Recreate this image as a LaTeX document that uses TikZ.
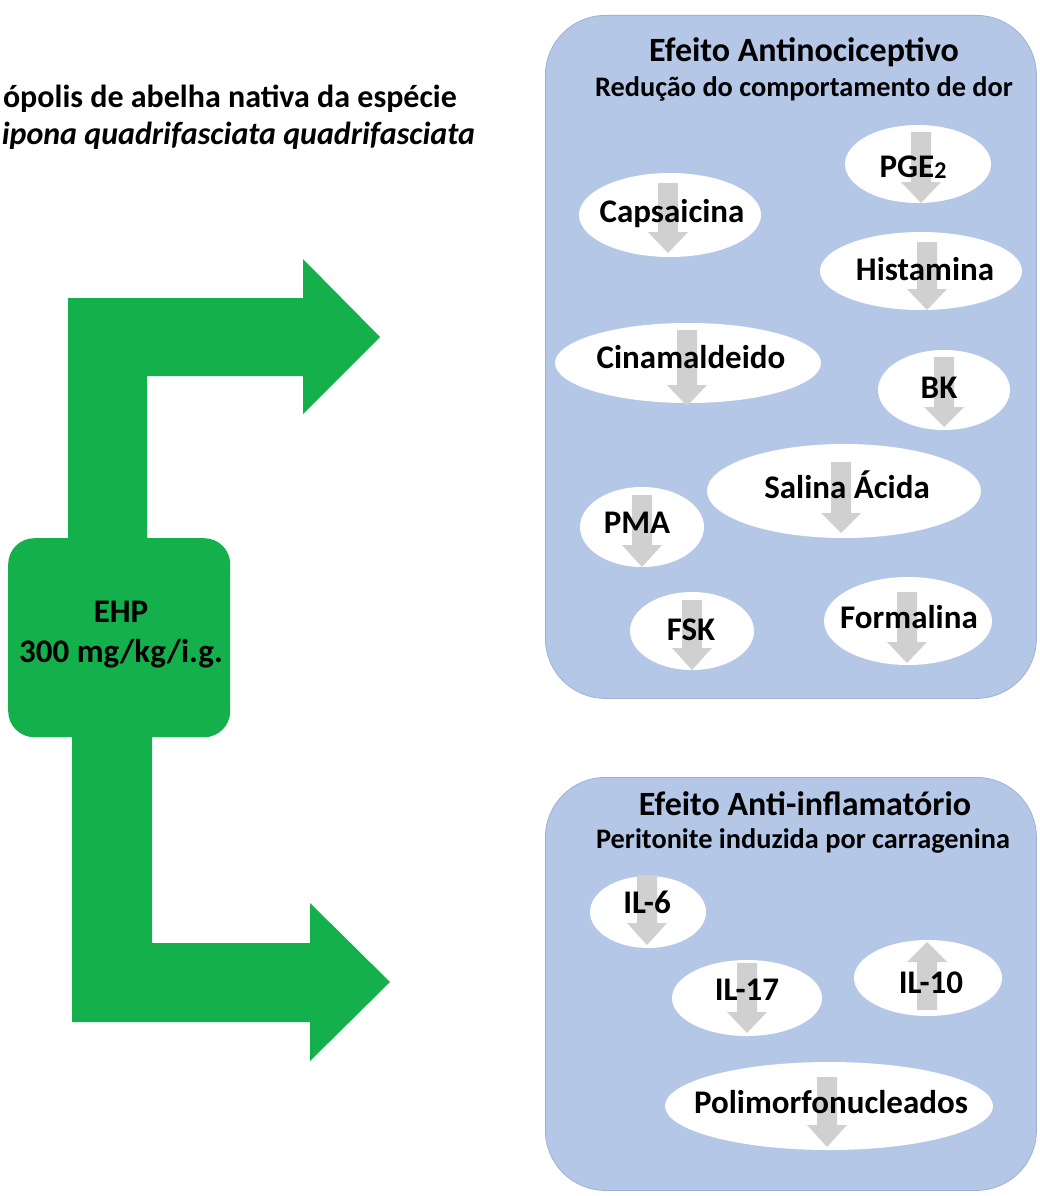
\documentclass[tikz,border=0pt]{standalone}
\usepackage{fontspec}
\setmainfont{Carlito}
\usetikzlibrary{shapes.geometric}
\definecolor{hpgreen}{HTML}{14B04C}
\definecolor{hpblue}{HTML}{B4C7E7}
\definecolor{hpblueline}{HTML}{9DB1D3}
\definecolor{hpgray}{HTML}{D0D0D0}
\tikzset{
  bluebox/.style={fill=hpblue,draw=hpblueline,line width=0.8pt,rounded corners=60pt},
  greenbox/.style={fill=hpgreen,rounded corners=26pt},
  greenarrow/.style={fill=hpgreen},
  oval/.style={ellipse,fill=white,draw=none,inner sep=0pt},
  grayarrow/.style={fill=hpgray},
  lbl/.style={font=\bfseries\fontsize{33}{40}\selectfont,inner sep=0pt,anchor=base},
  hdr/.style={font=\bfseries\fontsize{32}{40}\selectfont,inner sep=0pt,anchor=base east},
  ttl/.style={font=\bfseries\fontsize{34}{40}\selectfont,inner sep=0pt,anchor=base},
  sub/.style={font=\bfseries\fontsize{28.3}{34}\selectfont,inner sep=0pt,anchor=base},
}
\newcommand\grdown[4]{\fill[grayarrow] (#1-10,#2) -- (#1+10,#2) -- (#1+10,#3) -- (#1+20,#3) -- (#1,#4) -- (#1-20,#3) -- (#1-10,#3) -- cycle;}
\begin{document}
\begin{tikzpicture}[x=1pt,y=-1pt]
\useasboundingbox (0,0) rectangle (1040,1196);
% left header text
\node[hdr] (h1) at (457,108) {ópolis de abelha nativa da espécie};
\node[hdr] (h2) at (475,145) {\itshape ipona quadrifasciata quadrifasciata};
% blue panels
\node[bluebox,minimum width=491pt,minimum height=683pt,anchor=north west] (p1) at (545,15) {};
\node[bluebox,minimum width=491pt,minimum height=413pt,anchor=north west] (p2) at (545,777) {};
% green arrows
\coordinate (ua) at (68,538);
\coordinate (la) at (72,737);
\fill[greenarrow] (ua) -- (68,298) -- (303,298) -- (303,259) -- (380,337) -- (303,414) -- (303,376) -- (147,376) -- (147,538) -- cycle;
\fill[greenarrow] (la) -- (72,1022) -- (310,1022) -- (310,1061) -- (390,982) -- (310,903) -- (310,943) -- (152,943) -- (152,737) -- cycle;
% green box
\node[greenbox,minimum width=222pt,minimum height=199pt,anchor=north west] (ehp) at (8,538) {};
\node[lbl] (ehp1) at (121,622) {EHP};
\node[lbl] (ehp2) at (121,662) {300 mg/kg/i.g.};
% panel titles
\node[ttl] (t1) at (804,62) {Efeito Antinociceptivo};
\node[sub] (s1) at (804,97) {Redução do comportamento de dor};
\node[ttl] (t2) at (805,815) {Efeito Anti-inflamatório};
\node[sub] (s2) at (803,848) {Peritonite induzida por carragenina};
% ellipses
\node[oval,minimum width=146pt,minimum height=78pt] (ePGE) at (918,164) {};
\node[oval,minimum width=182pt,minimum height=84pt] (eCap) at (670,215) {};
\node[oval,minimum width=202pt,minimum height=78pt] (eHis) at (921,271) {};
\node[oval,minimum width=266pt,minimum height=80pt] (eCin) at (688,363) {};
\node[oval,minimum width=132pt,minimum height=80pt] (eBK) at (944,390) {};
\node[oval,minimum width=274pt,minimum height=94pt] (eSal) at (844,491) {};
\node[oval,minimum width=124pt,minimum height=80pt] (ePMA) at (642,527) {};
\node[oval,minimum width=124pt,minimum height=78pt] (eFSK) at (692,631) {};
\node[oval,minimum width=168pt,minimum height=88pt] (eFor) at (908,621) {};
\node[oval,minimum width=116pt,minimum height=72pt] (eIL6) at (648,912) {};
\node[oval,minimum width=150pt,minimum height=76pt] (eIL17) at (747,998) {};
\node[oval,minimum width=148pt,minimum height=76pt] (eIL10) at (928,978) {};
\node[oval,minimum width=328pt,minimum height=88pt] (ePol) at (829,1106) {};
% gray arrows
\grdown{921}{132}{182}{203}
\grdown{668}{183}{232}{253}
\grdown{927}{242}{289}{310}
\grdown{687}{330}{385}{406}
\grdown{944}{357}{407}{427}
\grdown{841}{462}{513}{533}
\grdown{642}{495}{545}{567}
\grdown{692}{600}{648}{670}
\grdown{907}{592}{642}{663}
\grdown{647}{875}{923}{945}
\grdown{747}{963}{1012}{1033}
\grdown{927}{1010}{962}{942}
\grdown{827}{1077}{1125}{1147}
% labels
\node[lbl] (lPGE) at (913,177) {PGE{\fontsize{24}{24}\selectfont\raisebox{-1pt}{2}}};
\node[lbl] (lCap) at (672,222) {Capsaicina};
\node[lbl] (lHis) at (925,280) {Histamina};
\node[lbl] (lCin) at (691,368) {Cinamaldeido};
\node[lbl] (lBK) at (939,398) {BK};
\node[lbl] (lSal) at (847,498) {Salina Ácida};
\node[lbl] (lPMA) at (637,533) {PMA};
\node[lbl] (lFSK) at (691,640) {FSK};
\node[lbl] (lFor) at (909,628) {Formalina};
\node[lbl] (lIL6) at (647,913) {IL-6};
\node[lbl] (lIL17) at (747,1000) {IL-17};
\node[lbl] (lIL10) at (931,993) {IL-10};
\node[lbl] (lPol) at (831,1113) {Polimorfonucleados};
\end{tikzpicture}
\end{document}
